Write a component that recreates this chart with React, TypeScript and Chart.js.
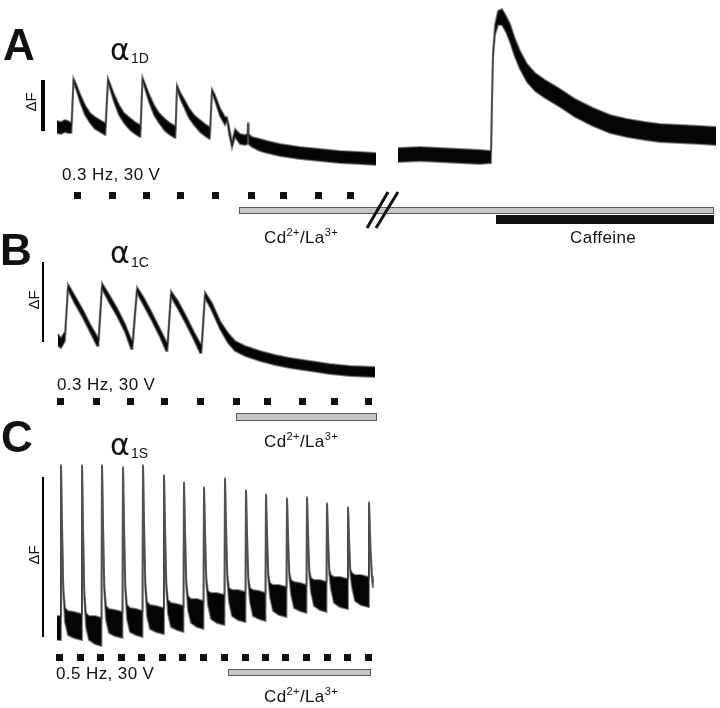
import React, { useEffect, useRef } from "react";
import { Chart, registerables } from "chart.js";

Chart.register(...registerables);

// ---------- DATA ----------
// Each trace point: [time (s), ΔF (a.u.), noise half-range (a.u.)]
type Pt = [number, number, number];

// Panel A, α1D, 0.3 Hz stimulation then Cd2+/La3+
const traceA1: Pt[] = [
  [0.7, 33, 6], [1.1, 32, 6], [1.5, 34, 6], [1.8, 33, 6], [2.15, 32, 5], [2.35, 80, 2], [2.7, 71, 3], [3.0, 62, 4],
  [3.5, 50, 5], [4.0, 42, 5], [4.5, 37, 6], [5.0, 34, 6], [5.5, 31, 6], [5.55, 31, 5], [5.8, 80, 2], [6.1, 71, 3],
  [6.4, 62, 4], [6.9, 50, 5], [7.4, 42, 5], [8.0, 36, 6], [8.5, 32, 6], [9.0, 29, 6], [9.05, 29, 5], [9.25, 81, 2],
  [9.6, 71, 3], [9.9, 62, 4], [10.4, 50, 5], [10.9, 42, 5], [11.5, 35, 6], [12.0, 31, 6], [12.5, 28, 6], [12.55, 28, 5],
  [12.7, 73, 2], [13.0, 65, 3], [13.4, 57, 4], [13.9, 47, 5], [14.4, 40, 5], [15.0, 34, 6], [15.5, 30, 6], [15.95, 27, 6],
  [16.0, 27, 5], [16.2, 69, 2], [16.5, 62, 3], [17.0, 48, 4], [17.5, 39, 4], [17.7, 41, 2], [17.9, 30, 4], [18.2, 15, 3],
  [18.5, 27, 4], [19.0, 21, 5], [19.5, 20, 5], [19.75, 21, 5], [19.8, 37, 1], [19.85, 21, 5], [20.2, 18, 5], [21.0, 15, 6],
  [21.7, 13, 6], [23.0, 10, 6], [25.0, 7, 6], [27.0, 5, 6], [29.0, 3, 6], [31.0, 2, 6], [32.6, 1, 6],
];
// Panel A, after the break: caffeine response
const traceA2: Pt[] = [
  [34.8, 5, 7], [37.0, 6, 7], [39.0, 5, 7], [41.0, 4, 7], [43.0, 3, 7], [44.1, 3, 6], [44.2, 60, 2], [44.3, 105, 3],
  [44.5, 130, 5], [44.8, 142, 7], [45.2, 143, 8], [45.6, 136, 8], [46.0, 127, 9], [46.5, 112, 9], [47.0, 100, 9],
  [47.7, 87, 9], [48.5, 78, 9], [49.5, 71, 9], [51.0, 62, 9], [52.5, 52, 9], [54.3, 43, 9], [56.0, 36, 9], [57.7, 32, 9],
  [59.5, 29, 9], [61.0, 27, 9], [63.0, 26, 9], [65.0, 25, 9], [66.6, 24, 9],
];
// Panel B, α1C
const traceB: Pt[] = [
  [0.8, 35, 6], [1.1, 32, 5], [1.4, 37, 5], [1.5, 38, 4], [1.8, 88, 3], [2.5, 75, 4], [3.3, 61, 4], [4.0, 47, 4],
  [4.7, 34, 5], [4.85, 33, 4], [5.2, 89, 3], [6.0, 75, 4], [6.7, 63, 4], [7.5, 47, 4], [8.1, 31, 5], [8.25, 30, 4],
  [8.7, 85, 3], [9.4, 73, 4], [10.2, 58, 4], [11.0, 42, 4], [11.6, 29, 5], [11.75, 28, 4], [12.1, 81, 3], [12.8, 70, 4],
  [13.6, 55, 4], [14.4, 39, 4], [15.0, 27, 5], [15.15, 26, 4], [15.5, 80, 3], [16.2, 68, 4], [17.0, 50, 4], [17.8, 37, 5],
  [18.5, 29, 5], [19.5, 24, 5], [21.0, 19, 5], [22.5, 15, 5], [24.0, 12, 5], [26.0, 9, 5], [28.0, 6, 5], [30.0, 4, 5],
  [32.5, 3, 5],
];
// Panel C, α1S, 0.5 Hz
const traceC: Pt[] = [
  [0.7, 12, 12], [1.05, 12, 12],
  [1.1, 175, 0.5], [1.22, 103, 1], [1.33, 50, 2.5], [1.5, 25, 7], [1.8, 17, 12], [2.4, 15, 13], [3.15, 13, 13],
  [3.2, 175, 0.5], [3.32, 101, 1], [3.43, 46, 2.5], [3.6, 20, 7], [3.9, 12, 12], [4.5, 10, 14], [5.15, 8, 14],
  [5.2, 175, 0.5], [5.32, 104, 1], [5.43, 52, 2.5], [5.6, 27, 7], [5.9, 19, 12], [6.5, 17, 13], [7.25, 15, 13],
  [7.3, 173, 0.5], [7.42, 103, 1], [7.53, 52, 2.5], [7.7, 28, 7], [8.0, 20, 12], [8.6, 18, 13], [9.25, 16, 13],
  [9.3, 175, 0.5], [9.42, 106, 1], [9.53, 55, 2.5], [9.7, 31, 7], [10.0, 23, 12], [10.6, 21, 13], [11.35, 19, 13],
  [11.4, 165, 0.5], [11.52, 101, 1], [11.63, 54, 2.5], [11.8, 33, 7], [12.1, 25, 12], [12.7, 23, 13], [13.35, 21, 13],
  [13.4, 158, 0.5], [13.52, 99, 1], [13.63, 56, 2.5], [13.8, 37, 7], [14.1, 29, 12], [14.7, 27, 14], [15.35, 25, 14],
  [15.4, 153, 0.5], [15.52, 99, 1], [15.63, 59, 2.5], [15.8, 42, 7], [16.1, 34, 13], [16.7, 32, 15], [17.45, 30, 15],
  [17.5, 162, 0.5], [17.62, 105, 1], [17.73, 63, 2.5], [17.9, 45, 7], [18.2, 37, 13], [18.8, 35, 15], [19.55, 33, 15],
  [19.6, 150, 0.5], [19.72, 98, 1], [19.83, 60, 2.5], [20.0, 45, 7], [20.3, 37, 13], [20.9, 35, 14], [21.55, 33, 14],
  [21.6, 146, 0.5], [21.72, 98, 1], [21.83, 63, 2.5], [22.0, 50, 7], [22.3, 42, 13], [22.9, 40, 15], [23.65, 38, 15],
  [23.7, 142, 0.5], [23.82, 97, 1], [23.93, 65, 2.5], [24.1, 53, 7], [24.4, 45, 13], [25.0, 43, 14], [25.65, 41, 14],
  [25.7, 143, 0.5], [25.82, 99, 1], [25.93, 67, 2.5], [26.1, 55, 7], [26.4, 47, 13], [27.0, 45, 15], [27.65, 43, 15],
  [27.7, 137, 0.5], [27.82, 97, 1], [27.93, 68, 2.5], [28.1, 58, 7], [28.4, 50, 13], [29.0, 48, 15], [29.75, 46, 15],
  [29.8, 133, 0.5], [29.92, 96, 1], [30.03, 68, 2.5], [30.2, 60, 7], [30.5, 52, 13], [31.1, 50, 15], [31.85, 48, 15],
  [31.9, 138, 0.5], [32.05, 90, 1], [32.2, 62, 2], [32.3, 55, 3],
];

// Stimulus times (s)
const stimA = [2.75, 6.2, 9.6, 13.0, 16.5, 20.2, 23.3, 26.8, 30.0];
const stimB = [1.1, 4.67, 8.0, 11.43, 15.0, 18.6, 21.77, 25.27, 28.43, 31.9];
const stimC = [0.93, 3.0, 5.07, 7.17, 9.1, 11.23, 13.27, 15.33, 17.4, 19.5, 21.5, 23.57, 25.6, 27.73, 29.77, 31.83];

// Application periods (s)
const cdLaA = [18.9, 66.3];
const caffeineA = [44.6, 66.4];
const cdLaB = [18.6, 32.6];
const cdLaC = [17.8, 32.0];
const breakA = 33.2;

// ΔF scale bars [from, to] (a.u.)
const scaleBarA = [29, 80];
const scaleBarB = [33, 113];
const scaleBarC = [3, 163];

// Text labels
const panelLetters = ["A", "B", "C"];
const isoforms = ["1D", "1C", "1S"];
const stimLabels = ["0.3 Hz, 30 V", "0.3 Hz, 30 V", "0.5 Hz, 30 V"];
const drugLabel = ["Cd", "2+", "/La", "3+"];
const caffeineLabel = "Caffeine";
const deltaF = "ΔF";

// ---------- CHART ----------
const X_MIN = -5;
const X_MAX = 67;
const CORE = "#050505";
const EDGE = "rgba(40,40,40,0.55)";

interface Bar { range: number[]; top: number; bottom: number; fill: string; stroke?: string }
interface PanelSpec {
  top: number; height: number; yMin: number; yMax: number;
  traces: Pt[][];
  stim: number[]; stimY: number;
  bars: Bar[];
  scaleBar: number[]; scaleBarW: number;
  breakAt?: number; breakY?: number[];
}

const panels: PanelSpec[] = [
  {
    top: 0, height: 250, yMin: -90, yMax: 160,
    traces: [traceA1, traceA2], stim: stimA, stimY: -35,
    bars: [
      { range: cdLaA, top: -47, bottom: -53, fill: "#c6c6c6", stroke: "#5a5a5a" },
      { range: caffeineA, top: -55, bottom: -64, fill: "#111" },
    ],
    scaleBar: scaleBarA, scaleBarW: 4,
    breakAt: breakA, breakY: [-68, -32],
  },
  {
    top: 250, height: 180, yMin: -55, yMax: 125,
    traces: [traceB], stim: stimB, stimY: -26,
    bars: [{ range: cdLaB, top: -38, bottom: -45, fill: "#c6c6c6", stroke: "#5a5a5a" }],
    scaleBar: scaleBarB, scaleBarW: 2,
  },
  {
    top: 430, height: 278, yMin: -68, yMax: 210,
    traces: [traceC], stim: stimC, stimY: -17,
    bars: [{ range: cdLaC, top: -29, bottom: -35, fill: "#c6c6c6", stroke: "#5a5a5a" }],
    scaleBar: scaleBarC, scaleBarW: 2,
  },
];

function Panel({ spec }: { spec: PanelSpec }) {
  const ref = useRef<HTMLCanvasElement>(null);
  useEffect(() => {
    const datasets: any[] = [];
    spec.traces.forEach((tr) => {
      datasets.push({
        data: tr.map((p) => ({ x: p[0], y: p[1] + p[2] })),
        borderColor: EDGE, borderWidth: 2, pointRadius: 0, fill: false, tension: 0,
      });
      datasets.push({
        data: tr.map((p) => ({ x: p[0], y: p[1] - p[2] })),
        borderColor: EDGE, borderWidth: 2, pointRadius: 0, fill: "-1", backgroundColor: CORE, tension: 0,
      });
    });
    const annot = {
      id: "annot",
      afterDatasetsDraw(chart: any) {
        const { ctx } = chart;
        const xs = chart.scales.x;
        const ys = chart.scales.y;
        ctx.save();
        // scale bar
        ctx.fillStyle = "#000";
        const sx = xs.getPixelForValue(-0.7);
        const sy0 = ys.getPixelForValue(spec.scaleBar[0]);
        const sy1 = ys.getPixelForValue(spec.scaleBar[1]);
        ctx.fillRect(sx - spec.scaleBarW / 2, sy1, spec.scaleBarW, sy0 - sy1);
        // stimulus markers
        ctx.fillStyle = "#111";
        spec.stim.forEach((t) => {
          const px = xs.getPixelForValue(t);
          const py = ys.getPixelForValue(spec.stimY);
          ctx.fillRect(Math.round(px - 3.5), Math.round(py - 3.5), 7, 7);
        });
        // application bars
        spec.bars.forEach((b) => {
          const x0 = xs.getPixelForValue(b.range[0]);
          const x1 = xs.getPixelForValue(b.range[1]);
          const y0 = ys.getPixelForValue(b.top);
          const y1 = ys.getPixelForValue(b.bottom);
          ctx.fillStyle = b.fill;
          ctx.fillRect(x0, y0, x1 - x0, y1 - y0);
          if (b.stroke) {
            ctx.strokeStyle = b.stroke;
            ctx.lineWidth = 1;
            ctx.strokeRect(Math.round(x0) + 0.5, Math.round(y0) + 0.5, Math.round(x1 - x0), Math.round(y1 - y0));
          }
        });
        // axis break marks
        if (spec.breakAt !== undefined && spec.breakY) {
          const cx = xs.getPixelForValue(spec.breakAt);
          const yb = ys.getPixelForValue(spec.breakY[0]);
          const yt = ys.getPixelForValue(spec.breakY[1]);
          ctx.strokeStyle = "#111";
          ctx.lineWidth = 3;
          ctx.beginPath();
          ctx.moveTo(cx - 15, yb); ctx.lineTo(cx + 6, yt);
          ctx.moveTo(cx - 6, yb); ctx.lineTo(cx + 16, yt);
          ctx.stroke();
        }
        ctx.restore();
      },
    };
    const chart = new Chart(ref.current as HTMLCanvasElement, {
      type: "line",
      data: { datasets },
      options: {
        responsive: false,
        animation: false,
        devicePixelRatio: 1,
        events: [],
        layout: { padding: 0 },
        plugins: { legend: { display: false }, tooltip: { enabled: false }, title: { display: false } },
        scales: {
          x: { type: "linear", min: X_MIN, max: X_MAX, display: false },
          y: { type: "linear", min: spec.yMin, max: spec.yMax, display: false },
        },
      },
      plugins: [annot],
    } as any);
    return () => chart.destroy();
  }, []);
  return (
    <canvas
      ref={ref}
      width={720}
      height={spec.height}
      style={{ position: "absolute", left: 0, top: spec.top, width: 720, height: spec.height }}
    />
  );
}

const SANS = '"Liberation Sans", Arial, sans-serif';

function Txt(props: { left: number; baseline: number; size: number; bold?: boolean; font?: string; spacing?: number; children: any }) {
  const { left, baseline, size, bold, font, spacing, children } = props;
  return (
    <div
      style={{
        position: "absolute", left, top: baseline - 0.846 * size, fontSize: size, lineHeight: `${size}px`,
        fontFamily: font || SANS, fontWeight: bold ? 700 : 400, whiteSpace: "nowrap", color: "#111",
        letterSpacing: spacing ? `${spacing}px` : undefined,
      }}
    >
      {children}
    </div>
  );
}

function Rot({ cx, cy, size, children }: { cx: number; cy: number; size: number; children: any }) {
  return (
    <div
      style={{
        position: "absolute", left: cx, top: cy, fontSize: size, lineHeight: `${size}px`, fontFamily: SANS,
        whiteSpace: "nowrap", color: "#111", transform: "translate(-50%, -50%) rotate(-90deg)",
      }}
    >
      {children}
    </div>
  );
}

const sup = { fontSize: 11, position: "relative" as const, top: -7 };

function DrugLabel({ left, baseline }: { left: number; baseline: number }) {
  return (
    <Txt left={left} baseline={baseline} size={17} spacing={0.4}>
      {drugLabel[0]}<span style={sup}>{drugLabel[1]}</span>{drugLabel[2]}<span style={sup}>{drugLabel[3]}</span>
    </Txt>
  );
}

export default function App() {
  const letterPos = [
    { left: 3, baseline: 60 },
    { left: 0, baseline: 265 },
    { left: 1, baseline: 452 },
  ];
  const alphaPos = [
    { a: 60, s: 63 },
    { a: 263, s: 267 },
    { a: 455, s: 458 },
  ];
  const stimPos = [
    { left: 62, baseline: 180 },
    { left: 57, baseline: 390 },
    { left: 56, baseline: 679 },
  ];
  const dfPos = [
    { cx: 30, cy: 102 },
    { cx: 32.5, cy: 300 },
    { cx: 32.5, cy: 555 },
  ];
  return (
    <div style={{ position: "fixed", left: 0, top: 0, width: 720, height: 708, background: "#fff", overflow: "hidden" }}>
      {panels.map((p, i) => (
        <Panel key={i} spec={p} />
      ))}
      {panelLetters.map((l, i) => (
        <Txt key={"l" + i} left={letterPos[i].left} baseline={letterPos[i].baseline} size={44} bold>
          {l}
        </Txt>
      ))}
      {isoforms.map((s, i) => (
        <React.Fragment key={"a" + i}>
          <Txt left={110} baseline={alphaPos[i].a} size={30} font='"DejaVu Sans", sans-serif'>α</Txt>
          <Txt left={131} baseline={alphaPos[i].s} size={14}>{s}</Txt>
        </React.Fragment>
      ))}
      {stimLabels.map((s, i) => (
        <Txt key={"s" + i} left={stimPos[i].left} baseline={stimPos[i].baseline} size={17} spacing={0.4}>
          {s}
        </Txt>
      ))}
      {dfPos.map((d, i) => (
        <Rot key={"d" + i} cx={d.cx} cy={d.cy} size={15}>{deltaF}</Rot>
      ))}
      <DrugLabel left={264} baseline={243} />
      <DrugLabel left={264} baseline={447} />
      <DrugLabel left={264} baseline={702} />
      <Txt left={570} baseline={243} size={17} spacing={0.4}>{caffeineLabel}</Txt>
    </div>
  );
}
